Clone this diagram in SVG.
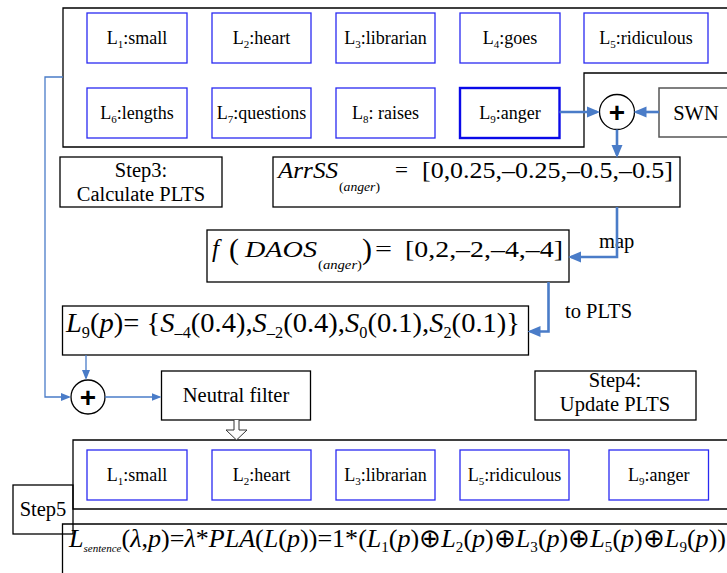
<svg xmlns="http://www.w3.org/2000/svg" width="727" height="573" viewBox="0 0 727 573" font-family="'Liberation Serif', 'Times New Roman', serif">
<defs>
<style>
text{font-family:"Liberation Serif","Times New Roman",serif;fill:#000}
.lb{font-size:18px;text-anchor:middle}
.tx{font-size:20.5px}
.mid{text-anchor:middle}
.it{font-style:italic}
.frame{fill:none;stroke:#000;stroke-width:1.3}
.box{fill:#fff;stroke:#000;stroke-width:1.3}
.lbox{fill:#fff;stroke:#2a2af2;stroke-width:1.3}
.thick{fill:none;stroke:#4a7cc8;stroke-width:2.6}
.thin{fill:none;stroke:#4a7cc8;stroke-width:1.3}
.plus{font-family:"Liberation Sans",Arial,sans-serif;font-weight:bold;font-size:28px;text-anchor:middle}
</style>
<marker id="ah" markerUnits="userSpaceOnUse" markerWidth="13" markerHeight="12" viewBox="0 0 13 12" refX="10" refY="6" orient="auto">
<path d="M0,0.5 L13,6 L0,11.5 z" fill="#4a7cc8"/>
</marker>
<marker id="as" markerUnits="userSpaceOnUse" markerWidth="10" markerHeight="9" viewBox="0 0 10 9" refX="8" refY="4.5" orient="auto">
<path d="M0,0.5 L10,4.5 L0,8.5 z" fill="#4a7cc8"/>
</marker>
</defs>
<rect width="727" height="573" fill="#fff"/>

<g id="top-frame"><path class="frame" d="M728,8 H63 V147 H584 V73 H728"/></g>

<g id="L1"><rect class="lbox" x="87" y="13" width="100" height="50"/><text class="lb" x="137" y="44">L<tspan font-size="11" dy="4">1</tspan><tspan dy="-4">:small</tspan></text></g>
<g id="L2"><rect class="lbox" x="212" y="13" width="99" height="50"/><text class="lb" x="261.5" y="44">L<tspan font-size="11" dy="4">2</tspan><tspan dy="-4">:heart</tspan></text></g>
<g id="L3"><rect class="lbox" x="336" y="13" width="99" height="50"/><text class="lb" x="385.5" y="44">L<tspan font-size="11" dy="4">3</tspan><tspan dy="-4">:librarian</tspan></text></g>
<g id="L4"><rect class="lbox" x="460" y="13" width="100" height="50"/><text class="lb" x="510" y="44">L<tspan font-size="11" dy="4">4</tspan><tspan dy="-4">:goes</tspan></text></g>
<g id="L5"><rect class="lbox" x="584" y="13" width="124" height="50"/><text class="lb" x="646" y="44">L<tspan font-size="11" dy="4">5</tspan><tspan dy="-4">:ridiculous</tspan></text></g>
<g id="L6"><rect class="lbox" x="87" y="88" width="100" height="50"/><text class="lb" x="137" y="119">L<tspan font-size="11" dy="4">6</tspan><tspan dy="-4">:lengths</tspan></text></g>
<g id="L7"><rect class="lbox" x="212" y="88" width="99" height="50"/><text class="lb" x="261.5" y="119">L<tspan font-size="11" dy="4">7</tspan><tspan dy="-4">:questions</tspan></text></g>
<g id="L8"><rect class="lbox" x="336" y="88" width="99" height="50"/><text class="lb" x="385.5" y="119">L<tspan font-size="11" dy="4">8</tspan><tspan dy="-4">: raises</tspan></text></g>
<g id="L9"><rect x="460" y="88" width="99.5" height="50" fill="#fff" stroke="#0a0ae8" stroke-width="2.4"/><text class="lb" x="510" y="119">L<tspan font-size="11" dy="4">9</tspan><tspan dy="-4">:anger</tspan></text></g>

<g id="SWN"><rect x="659" y="88" width="80" height="49" fill="#fff" stroke="#555" stroke-width="1.5"/><text class="tx mid" x="696" y="120">SWN</text></g>
<g id="sum1"><circle cx="617" cy="112" r="17.5" fill="#fff" stroke="#000" stroke-width="1.3"/><text class="plus" x="617" y="121.5">+</text></g>

<g id="step3"><rect class="box" x="60" y="157" width="162" height="50"/><text class="tx mid" x="141" y="177">Step3:</text><text class="tx mid" x="141" y="201">Calculate PLTS</text></g>

<g id="ArrSS"><rect class="box" x="273" y="157" width="407" height="50"/>
<text class="it" x="278" y="178" font-size="23" textLength="60" lengthAdjust="spacingAndGlyphs">ArrSS</text>
<text x="339" y="191" font-size="13" textLength="41" lengthAdjust="spacingAndGlyphs">(<tspan class="it">anger</tspan>)</text>
<text x="395" y="177" font-size="22" textLength="13" lengthAdjust="spacingAndGlyphs">=</text>
<text x="422" y="178" font-size="23" textLength="251" lengthAdjust="spacingAndGlyphs">[0,0.25,–0.25,–0.5,–0.5]</text>
</g>

<g id="fDAOS"><rect class="box" x="207" y="230" width="362" height="52"/>
<text class="it" x="212" y="257" font-size="25">f</text>
<text x="229" y="259" font-size="30">(</text>
<text class="it" x="245" y="257" font-size="24" textLength="72" lengthAdjust="spacingAndGlyphs">DAOS</text>
<text x="318" y="269" font-size="13" textLength="44" lengthAdjust="spacingAndGlyphs">(<tspan class="it">anger</tspan>)</text>
<text x="362" y="259" font-size="30">)</text>
<text x="375" y="256" font-size="22" textLength="17" lengthAdjust="spacingAndGlyphs">=</text>
<text x="405" y="257" font-size="24" textLength="158" lengthAdjust="spacingAndGlyphs">[0,2,–2,–4,–4]</text>
</g>

<g id="L9p"><rect class="box" x="62.5" y="306" width="466" height="49"/>
<text x="66" y="332" font-size="28" textLength="454" lengthAdjust="spacingAndGlyphs"><tspan class="it">L</tspan><tspan font-size="16" dy="6">9</tspan><tspan dy="-6">(</tspan><tspan class="it">p</tspan>)= {<tspan class="it">S</tspan><tspan font-size="16" dy="6">–4</tspan><tspan dy="-6">(0.4),</tspan><tspan class="it">S</tspan><tspan font-size="16" dy="6">–2</tspan><tspan dy="-6">(0.4),</tspan><tspan class="it">S</tspan><tspan font-size="16" dy="6">0</tspan><tspan dy="-6">(0.1),</tspan><tspan class="it">S</tspan><tspan font-size="16" dy="6">2</tspan><tspan dy="-6">(0.1)}</tspan></text>
</g>

<g id="sum2"><circle cx="88" cy="397" r="17" fill="#fff" stroke="#000" stroke-width="1.3"/><text class="plus" x="88" y="406.5">+</text></g>
<g id="neutral"><rect class="box" x="161.5" y="371" width="149" height="49"/><text class="tx mid" x="236" y="402">Neutral filter</text></g>
<g id="step4"><rect class="box" x="535" y="371" width="161" height="49"/><text class="tx mid" x="615" y="387">Step4:</text><text class="tx mid" x="615" y="411">Update PLTS</text></g>

<g id="bottom-frame"><path class="frame" d="M728,440 H73 V509 H728"/></g>
<g id="B1"><rect class="lbox" x="87" y="450" width="100" height="50"/><text class="lb" x="137" y="481">L<tspan font-size="11" dy="4">1</tspan><tspan dy="-4">:small</tspan></text></g>
<g id="B2"><rect class="lbox" x="212" y="450" width="99" height="50"/><text class="lb" x="261.5" y="481">L<tspan font-size="11" dy="4">2</tspan><tspan dy="-4">:heart</tspan></text></g>
<g id="B3"><rect class="lbox" x="336" y="450" width="99" height="50"/><text class="lb" x="385.5" y="481">L<tspan font-size="11" dy="4">3</tspan><tspan dy="-4">:librarian</tspan></text></g>
<g id="B5"><rect class="lbox" x="460" y="450" width="109" height="50"/><text class="lb" x="514.5" y="481">L<tspan font-size="11" dy="4">5</tspan><tspan dy="-4">:ridiculous</tspan></text></g>
<g id="B9"><rect class="lbox" x="609" y="450" width="99.5" height="50"/><text class="lb" x="658.7" y="481">L<tspan font-size="11" dy="4">9</tspan><tspan dy="-4">:anger</tspan></text></g>

<g id="step5"><rect class="frame" x="13" y="485" width="60" height="49"/><text class="tx mid" x="43" y="516">Step5</text></g>
<g id="formula"><path class="frame" d="M728,524 H62.5 V574"/>
<text x="69" y="547" font-size="26" textLength="657" lengthAdjust="spacingAndGlyphs"><tspan class="it">L</tspan><tspan class="it" font-size="11" dy="5">sentence</tspan><tspan dy="-5">(</tspan><tspan class="it">λ</tspan>,<tspan class="it">p</tspan>)=<tspan class="it">λ</tspan>*<tspan class="it">PLA</tspan>(<tspan class="it">L</tspan>(<tspan class="it">p</tspan>))=1*(<tspan class="it">L</tspan><tspan font-size="15" dy="5">1</tspan><tspan dy="-5">(</tspan><tspan class="it">p</tspan>)⊕<tspan class="it">L</tspan><tspan font-size="15" dy="5">2</tspan><tspan dy="-5">(</tspan><tspan class="it">p</tspan>)⊕<tspan class="it">L</tspan><tspan font-size="15" dy="5">3</tspan><tspan dy="-5">(</tspan><tspan class="it">p</tspan>)⊕<tspan class="it">L</tspan><tspan font-size="15" dy="5">5</tspan><tspan dy="-5">(</tspan><tspan class="it">p</tspan>)⊕<tspan class="it">L</tspan><tspan font-size="15" dy="5">9</tspan><tspan dy="-5">(</tspan><tspan class="it">p</tspan>))</text>
</g>

<g id="labels">
<text class="tx" x="599" y="248">map</text>
<text class="tx" x="565" y="318">to PLTS</text>
</g>

<g id="connectors">
<path class="thick" d="M559.5,112 H597" marker-end="url(#ah)"/>
<path class="thick" d="M659,112 H636.5" marker-end="url(#ah)"/>
<path class="thick" d="M617,129.5 V155" marker-end="url(#ah)"/>
<path class="thick" d="M617,207 V257 H571" marker-end="url(#ah)"/>
<path class="thick" d="M548.5,282 V331.5 H530.5" marker-end="url(#ah)"/>
<path class="thin" d="M86,355 V378" marker-end="url(#as)"/>
<path class="thin" d="M63,77 H45 V397 H69" marker-end="url(#as)"/>
<path class="thin" d="M105,397 H159.5" marker-end="url(#as)"/>
<path d="M234,420 V430 H226 L236.5,440 L247,430 H239 V420" fill="#fff" stroke="#333" stroke-width="1"/>
</g>
</svg>
